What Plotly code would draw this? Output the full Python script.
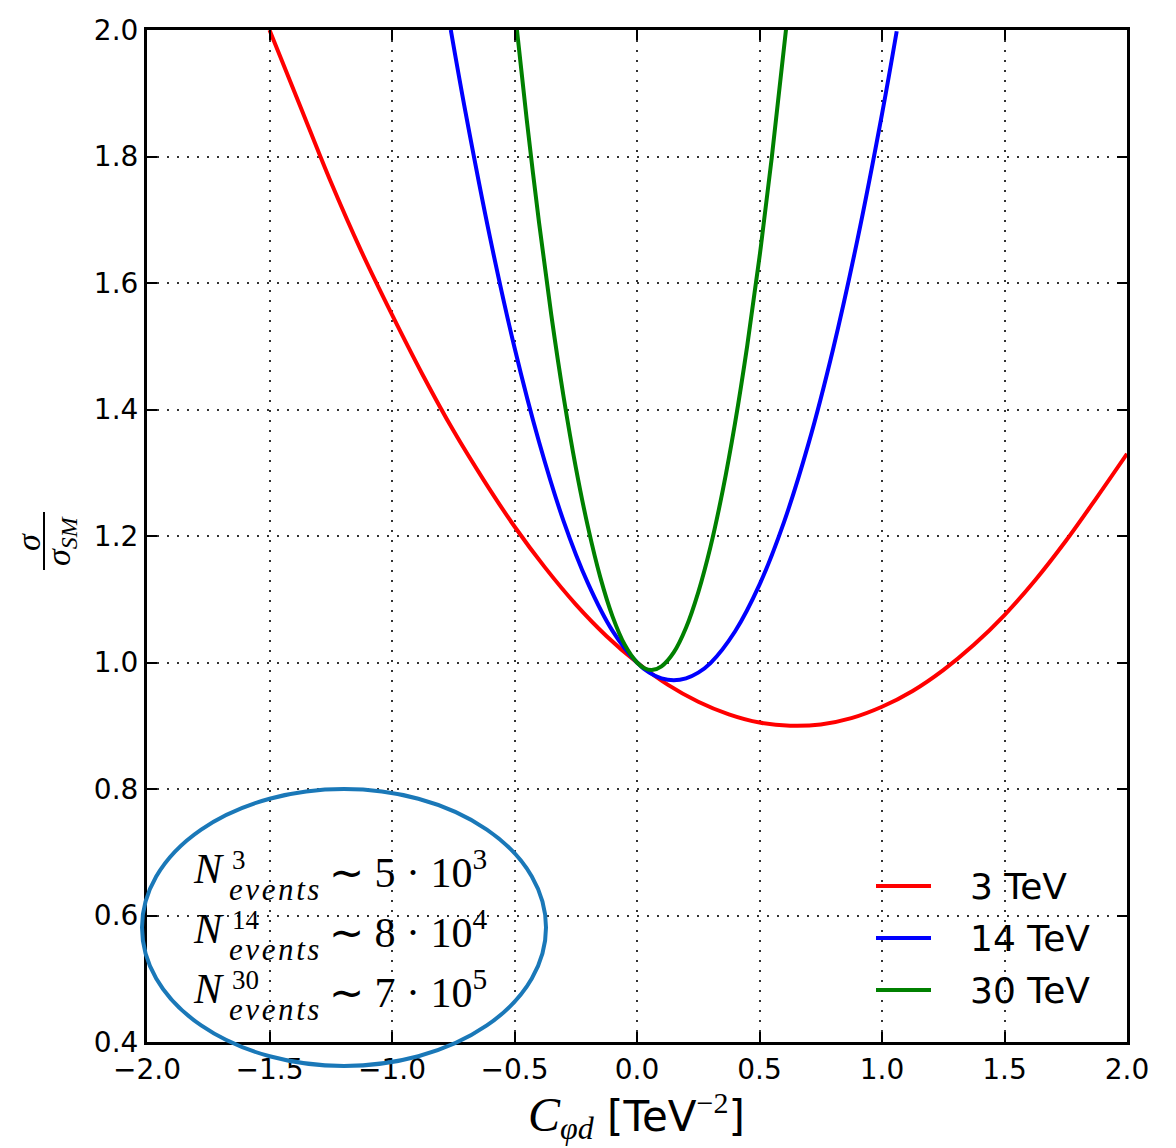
import plotly.graph_objects as go

# ---- data: cross-section ratio sigma/sigma_SM vs Wilson coefficient ----
x_3tev = [-1.5, -1.375, -1.25, -1.125, -1.0, -0.875, -0.75, -0.625, -0.5, -0.375, -0.25, -0.125, 0.0,
          0.125, 0.25, 0.375, 0.5, 0.625, 0.75, 0.875, 1.0, 1.125, 1.25, 1.375, 1.5, 1.625, 1.75, 1.875, 2.0]
y_3tev = [2.00, 1.88, 1.76, 1.65, 1.55, 1.455, 1.367, 1.288, 1.215, 1.150, 1.092, 1.042, 1.000,
          0.965, 0.938, 0.918, 0.905, 0.900, 0.902, 0.912, 0.930, 0.955, 0.988, 1.028, 1.075, 1.130, 1.192, 1.260, 1.330]

x_14tev = [-0.76, -0.7, -0.6, -0.5, -0.4, -0.3, -0.2, -0.1, 0.0, 0.05, 0.1, 0.15, 0.2, 0.25,
           0.3, 0.4, 0.5, 0.6, 0.7, 0.8, 0.9, 1.0, 1.06]
y_14tev = [2.00, 1.87, 1.672, 1.498, 1.349, 1.224, 1.125, 1.050, 1.000, 0.984, 0.975, 0.972, 0.975, 0.984,
           0.999, 1.049, 1.123, 1.222, 1.346, 1.495, 1.669, 1.867, 1.998]

x_30tev = [-0.49, -0.45, -0.4, -0.35, -0.3, -0.25, -0.2, -0.15, -0.1, -0.05, 0.0, 0.03, 0.06, 0.1,
           0.15, 0.2, 0.25, 0.3, 0.35, 0.4, 0.45, 0.5, 0.55, 0.61]
y_30tev = [2.00, 1.858, 1.696, 1.550, 1.421, 1.309, 1.214, 1.135, 1.073, 1.028, 1.000, 0.991, 0.988, 0.994,
           1.016, 1.055, 1.111, 1.183, 1.272, 1.378, 1.501, 1.641, 1.798, 2.007]

series_names = ["3 TeV", "14 TeV", "30 TeV"]
series_colors = ["#ff0000", "#0000ff", "#008000"]

x_tickvals = [-2.0, -1.5, -1.0, -0.5, 0.0, 0.5, 1.0, 1.5, 2.0]
x_ticktext = ["\u22122.0", "\u22121.5", "\u22121.0", "\u22120.5", "0.0", "0.5", "1.0", "1.5", "2.0"]
y_tickvals = [0.4, 0.6, 0.8, 1.0, 1.2, 1.4, 1.6, 1.8, 2.0]
y_ticktext = ["0.4", "0.6", "0.8", "1.0", "1.2", "1.4", "1.6", "1.8", "2.0"]

event_energies = ["3", "14", "30"]
event_counts = ["5 \u00b7 10<sup>3</sup>", "8 \u00b7 10<sup>4</sup>", "7 \u00b7 10<sup>5</sup>"]

# ---- figure geometry (pixels) ----
W, H = 1176, 1148
L, R, T, B = 147, 49, 30, 106
PW, PH = W - L - R, H - T - B


def px(xp):
    return (xp - L) / PW


def py(yp):
    return (H - B - yp) / PH


SANS = "DejaVu Sans"
SERIF = "Liberation Serif"

fig = go.Figure()
for xs, ys, name, col in zip([x_3tev, x_14tev, x_30tev], [y_3tev, y_14tev, y_30tev],
                             series_names, series_colors):
    fig.add_trace(go.Scatter(x=xs, y=ys, mode="lines", name=name,
                             line=dict(color=col, width=4, shape="spline", smoothing=1.0),
                             showlegend=False, hoverinfo="skip"))

axis_common = dict(showline=True, linecolor="black", linewidth=3, mirror="allticks",
                   ticks="inside", ticklen=10, tickwidth=2, tickcolor="black",
                   showgrid=True, gridcolor="#333333", gridwidth=1.5, griddash="2px,8px",
                   zeroline=False, tickfont=dict(family=SANS, size=28, color="black"))

fig.update_xaxes(range=[-2, 2], tickmode="array", tickvals=x_tickvals, ticktext=x_ticktext,
                 **axis_common)
fig.update_yaxes(range=[0.4, 2.0], tickmode="array", tickvals=y_tickvals, ticktext=y_ticktext,
                 **axis_common)

annotations = []
shapes = []

# legend drawn by hand: short line + label
legend_rows = [886, 938, 990]
for yy, name, col in zip(legend_rows, series_names, series_colors):
    shapes.append(dict(type="line", xref="paper", yref="paper", x0=px(876), x1=px(931),
                       y0=py(yy), y1=py(yy), line=dict(color=col, width=4)))
    annotations.append(dict(xref="paper", yref="paper", x=px(968), y=py(yy), xanchor="left",
                            yanchor="middle", text=name, showarrow=False,
                            font=dict(family=SANS, size=36, color="black")))

# event-count box with ellipse
shapes.append(dict(type="circle", xref="paper", yref="paper", x0=px(142), x1=px(546),
                   y0=py(1066), y1=py(789), line=dict(color="#1a78b8", width=4), layer="above"))
baselines = [883, 943, 1003]
for bl, en, cnt in zip(baselines, event_energies, event_counts):
    annotations.append(dict(xref="paper", yref="paper", x=px(191), y=py(bl - 14), xanchor="left",
                            yanchor="middle", text="<i>N</i>", showarrow=False,
                            font=dict(family=SERIF, size=42, color="black")))
    annotations.append(dict(xref="paper", yref="paper", x=px(230), y=py(bl - 23), xanchor="left",
                            yanchor="middle", text=en, showarrow=False,
                            font=dict(family=SERIF, size=27, color="black")))
    annotations.append(dict(xref="paper", yref="paper", x=px(227), y=py(bl + 6), xanchor="left",
                            yanchor="middle", text="<i>e\u200av\u200ae\u200an\u200at\u200as</i>",
                            showarrow=False, font=dict(family=SERIF, size=31, color="black")))
    annotations.append(dict(xref="paper", yref="paper", x=px(327), y=py(bl - 14), xanchor="left",
                            yanchor="middle", text="\u223c " + cnt, showarrow=False,
                            font=dict(family=SERIF, size=42, color="black")))

# x axis title
annotations.append(dict(
    xref="paper", yref="paper", x=px(636), y=py(1116), xanchor="center", yanchor="middle",
    text=("<span style='font-family:Liberation Serif;font-style:italic;font-size:48px'>C</span>"
          "<sub><span style='font-family:Liberation Serif;font-style:italic;font-size:32px'>\u03c6d</span></sub>"
          " [TeV<sup><span style='font-family:Liberation Serif;font-size:30px'>\u22122</span></sup>]"),
    showarrow=False, font=dict(family=SANS, size=42, color="black")))

# y axis title: sigma over sigma_SM, rotated
annotations.append(dict(xref="paper", yref="paper", x=px(28), y=py(542), xanchor="center",
                        yanchor="middle", text="<i>\u03c3</i>", textangle=-90, showarrow=False,
                        font=dict(family=SERIF, size=34, color="black")))
shapes.append(dict(type="line", xref="paper", yref="paper", x0=px(44), x1=px(44),
                   y0=py(512), y1=py(570), line=dict(color="black", width=2)))
annotations.append(dict(xref="paper", yref="paper", x=px(61), y=py(541), xanchor="center",
                        yanchor="middle", text="<i>\u03c3<sub>SM</sub></i>", textangle=-90,
                        showarrow=False, font=dict(family=SERIF, size=34, color="black")))

fig.update_layout(width=W, height=H, margin=dict(l=L, r=R, t=T, b=B, pad=0),
                  paper_bgcolor="white", plot_bgcolor="white",
                  annotations=annotations, shapes=shapes, showlegend=False)

fig.write_html("out.html")
